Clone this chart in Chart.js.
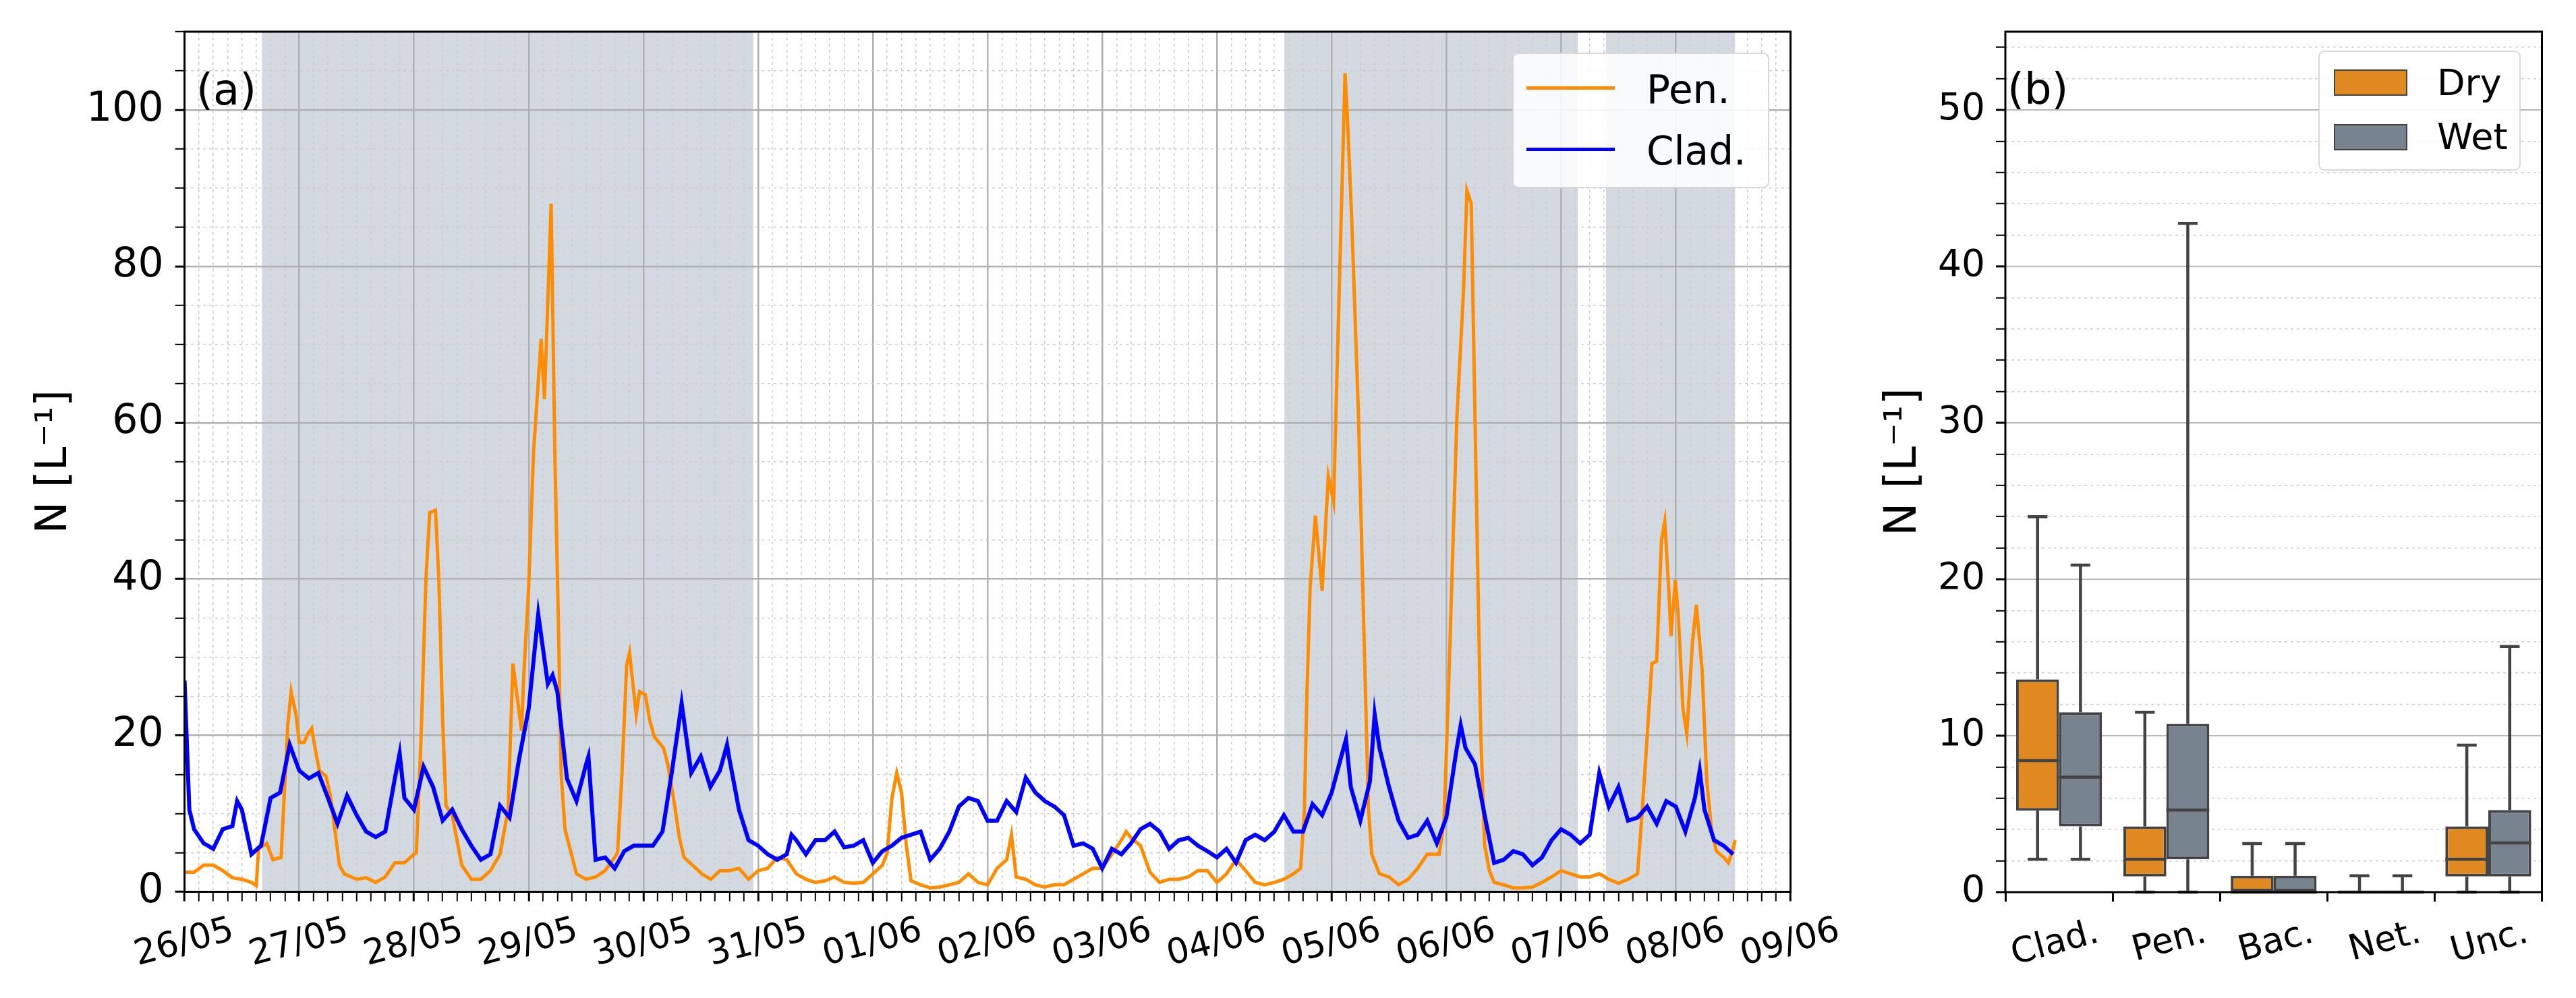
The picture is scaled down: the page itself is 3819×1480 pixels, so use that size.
<!DOCTYPE html>
<html>
<head>
<meta charset="utf-8">
<script src="https://cdn.jsdelivr.net/npm/chart.js@4.4.0/dist/chart.umd.min.js"></script>
<style>
  html, body { margin: 0; padding: 0; background: #fff; }
  #wrap { position: relative; width: 3819px; height: 1480px; overflow: hidden; font-family: 'DejaVu Sans', sans-serif; color: #000; }
  canvas { position: absolute; top: 0; }
  #chartA { left: 0; }
  #chartB { left: 2700px; }
  .tag { position: absolute; font-size: 64px; line-height: 1; white-space: nowrap; }
  .legend { position: absolute; box-sizing: border-box; background: rgba(255,255,255,0.85); border: 2px solid #d8d8d8; border-radius: 9px; }
  .legend .txt { position: absolute; line-height: 1; white-space: nowrap; }
  .legend .sw { position: absolute; box-sizing: border-box; }
</style>
</head>
<body>
<div id="wrap">
  <canvas id="chartA" width="2800" height="1480"></canvas>
  <canvas id="chartB" width="1119" height="1480"></canvas>
  <div class="tag" style="left:291px; top:101px;">(a)</div>
  <div class="tag" style="left:2976px; top:100px;">(b)</div>
  <div class="legend" id="legA" style="left:2242px; top:78px; width:381px; height:201px;"></div>
  <div class="legend" id="legB" style="left:3437px; top:75px; width:300px; height:178px;"></div>
</div>
<script>
// ---- panel (a): time series, hours since 26/05 00:00 ----
const dayLabels = ['26/05','27/05','28/05','29/05','30/05','31/05','01/06','02/06','03/06','04/06','05/06','06/06','07/06','08/06','09/06'];

const penHours = [
  0,2,4,6,8,10,12,14,15,15.5,
  17.2,18.5,20.2,21.6,22.3,23.3,24,25,25.8,26.6,
  27.3,28.2,29.6,30.6,31.5,32.4,33.4,36,38,40,
  42,44,46,48,48.5,49.5,50.5,51.3,52.5,53.2,
  54,54.7,56,58,60,62,64,66,67.7,68.7,
  70.5,71,72,73,74.6,75.3,76.7,77.5,78.2,78.8,
  79.6,82,84,86,88,90,90.6,91.5,92.5,93.1,
  94.5,95.2,96.4,97.3,98.3,100.2,101.1,102.5,103.5,104.5,
  106.3,108.2,110.1,112,114,116,118,120,122,124,
  126,128,130,132,134,136,138,140,142,144,
  146,147,148,149,150,151,152,154,156,158,
  160,162,164,166,168,170,172,173,174,176,
  178,180,182,184,186,188,190,192,194,196,
  197,198,200,202,204,206,208,210,212,214,
  216,218,220,222,224,226,228,230,232,233.5,
  234.3,234.8,235.5,236.6,238,239.3,240.4,242.8,243.3,244.2,
  245.6,246.8,247.7,248.4,250,252,254,256,258,260,
  262.5,263.5,264.4,266.2,267.6,268.3,269.2,270.3,271.2,272,
  273,274,276,278,280,282,284,286,288,290,
  292,294,296,298,300,302,304,305,306,307,
  308,309,309.7,310.5,311,311.9,312.5,313.5,314.3,315.5,
  316.3,317.5,318.5,319.5,320.5,322,323,324,324.4
];
const penValues = [
  2.5,2.5,3.4,3.4,2.7,1.8,1.6,1.2,0.8,5.5,
  6.2,4.1,4.4,21.3,25.6,22.7,19.1,19.1,20.2,20.9,
  18.4,15.5,14.8,12,7.7,3.4,2.3,1.6,1.8,1.2,
  1.9,3.7,3.7,4.8,5,20,40,48.5,48.8,40,
  22,11,9.8,3.4,1.6,1.6,2.7,4.8,10.5,29.2,
  20.6,28,39,56,70.7,63,88,55,35,15,
  8,2.3,1.6,1.9,2.7,4.4,5,15,29,30.6,
  22.7,25.6,25.2,22,19.8,18.4,16.3,11.2,7,4.4,
  3.4,2.3,1.6,2.7,2.7,3.0,1.6,2.7,3.0,4.4,
  4.1,2.3,1.6,1.2,1.4,1.9,1.2,1.1,1.2,2.3,
  3.4,5,12,15.2,12.7,6,1.4,0.9,0.5,0.6,
  0.9,1.2,2.3,1.2,0.9,3.0,4.1,7.3,1.9,1.6,
  0.9,0.6,0.9,0.9,1.6,2.3,3.0,3.0,4.8,6.6,
  7.7,6.9,5.9,2.5,1.2,1.6,1.6,1.9,2.7,2.7,
  1.2,2.3,4.1,2.7,1.2,0.9,1.2,1.6,2.3,3,
  10.5,24.9,39,48.1,38.5,53.2,49.9,104.7,99,86,
  61,32,10.5,4.8,2.3,1.9,0.9,1.6,3.0,4.8,
  4.8,9,24.9,60.7,77,89.7,88,50,20,6,
  2.7,1.2,0.9,0.5,0.5,0.6,1.2,1.9,2.7,2.3,
  1.9,1.9,2.3,1.6,1.1,1.6,2.3,10.5,19.8,29.2,
  29.5,45,47.4,39,32.7,39.9,35.6,23.4,20.2,32,
  36.7,28.4,14.1,7.7,5.2,4.4,3.7,5.5,6.6
];

const cladHours = [
  0,1,2,4,6,8,10,11,12,14,
  16,18,20,22,24,26,28,30,32,34,
  36,38,40,42,44,45,46,48,50,52,
  54,56,58,60,62,64,66,68,70,72,
  74,76,77,78,80,82,84,84.5,86,88,
  90,92,94,96,98,100,102,104,106,108,
  110,112,113.5,114,116,118,120,122,124,126,
  127,128,130,132,134,136,138,140,142,144,
  146,148,150,152,154,156,158,160,162,164,
  166,168,170,172,174,176,178,180,182,184,
  186,188,190,192,194,196,198,200,202,204,
  206,208,210,212,214,216,218,220,222,224,
  226,228,230,232,234,236,238,240,242,243,
  244,246,248,249,250,252,254,256,258,260,
  262,264,266,267,268,270,272,274,276,278,
  280,282,284,286,288,290,292,294,296,298,
  300,302,304,306,308,310,312,314,316,317,
  318,320,322,324
];
const cladValues = [
  27,10.5,8,6.2,5.5,8.0,8.4,11.6,10.5,4.8,
  5.9,12,12.7,18.8,15.5,14.5,15.2,12,8.7,12.3,
  9.8,7.7,7.0,7.7,14.5,17.7,12,10.5,16,13.4,
  9.1,10.5,8.0,5.9,4.1,4.8,11,9.5,17,23.4,
  35.5,26.6,27.7,25.6,14.5,11.6,16.3,17.3,4.1,4.4,
  3.0,5.2,5.9,5.9,5.9,7.7,15.5,24.1,15.2,17.3,
  13.4,15.5,18.8,17.0,10.5,6.6,5.9,4.8,4.1,4.8,
  7.3,6.6,4.8,6.6,6.6,7.7,5.7,5.9,6.6,3.7,
  5.2,5.9,6.9,7.3,7.7,4.1,5.5,7.7,10.9,12,
  11.6,9.1,9.1,11.6,10.2,14.6,12.7,11.6,10.9,9.8,
  5.9,6.2,5.5,3.0,5.5,4.8,6.2,8.0,8.7,7.7,
  5.5,6.6,6.9,5.9,5.2,4.4,5.5,3.7,6.6,7.3,
  6.6,7.7,9.8,7.7,7.7,11.2,9.8,12.7,17.3,19.5,
  13.4,9.1,14.1,22.7,18.4,13.4,9.1,6.9,7.3,9.1,
  6.2,9.5,17.7,21.3,18.4,16.3,9.8,3.7,4.1,5.2,
  4.8,3.4,4.4,6.6,8.0,7.3,6.2,7.3,15.2,10.9,
  13.4,9.1,9.5,10.9,8.7,11.6,10.9,7.7,12,15.5,
  10.5,6.6,5.9,4.8
];

// wet periods (grey bands), hours
const wetStart = [16.2, 230.1, 297.4];
const wetEnd = [119.0, 291.5, 324.4];

// ---- panel (b): box statistics ----
const boxCats = ['Clad.', 'Pen.', 'Bac.', 'Net.', 'Unc.'];
const dryMin = [2.1, 0, 0, 0, 0];
const dryQ1 = [5.2, 1.0, 0, 0, 1.0];
const dryMed = [8.4, 2.1, 0, 0, 2.1];
const dryQ3 = [13.6, 4.2, 1.05, 0, 4.2];
const dryMax = [24.0, 11.5, 3.1, 1.05, 9.4];
const wetMin = [2.1, 0, 0, 0, 0];
const wetQ1 = [4.2, 2.1, 0, 0, 1.0];
const wetMed = [7.35, 5.25, 0, 0, 3.15];
const wetQ3 = [11.5, 10.75, 1.05, 0, 5.25];
const wetMax = [20.9, 42.75, 3.1, 1.05, 15.7];

const FONT = "'DejaVu Sans', sans-serif";
const PEN = '#ff8c00', CLAD = '#0000ff';
const DRY = '#df8920', WET = '#77838f', EDGE = '#434343';
const SHADE = '#d3d9e0';

Chart.defaults.font.family = FONT;
Chart.defaults.color = '#000';

const xTicksA = [];
for (let h = 0; h <= 336; h += 3) xTicksA.push(h);
const yTicksA = [];
for (let v = 0; v <= 110; v += 5) yTicksA.push(v);
const yTicksB = [];
for (let v = 0; v <= 54; v += 2) yTicksB.push(v);

const frame = {
  id: 'frame',
  afterDatasetsDraw(chart) {
    const { ctx, chartArea: a } = chart;
    ctx.save();
    ctx.strokeStyle = '#000';
    ctx.lineWidth = 3;
    ctx.strokeRect(a.left, a.top, a.right - a.left, a.bottom - a.top);
    ctx.restore();
  }
};

const wetShade = {
  id: 'wetShade',
  beforeDraw(chart) {
    const { ctx, chartArea: a, scales: { x } } = chart;
    ctx.save();
    ctx.fillStyle = SHADE;
    wetStart.forEach((s, i) => {
      const x0 = x.getPixelForValue(s);
      const x1 = x.getPixelForValue(wetEnd[i]);
      ctx.fillRect(x0, a.top, x1 - x0, a.bottom - a.top);
    });
    ctx.restore();
  }
};

const whiskers = {
  id: 'whiskers',
  afterDatasetsDraw(chart) {
    const { ctx, scales: { y } } = chart;
    ctx.save();
    ctx.strokeStyle = EDGE;
    ctx.lineWidth = 4.5;
    chart.data.datasets.forEach((ds, di) => {
      const st = ds.stats;
      chart.getDatasetMeta(di).data.forEach((bar, i) => {
        const x = bar.x, half = bar.width / 2, cap = bar.width * 0.23;
        const pMin = y.getPixelForValue(st.min[i]);
        const pMax = y.getPixelForValue(st.max[i]);
        const pQ1 = y.getPixelForValue(st.q1[i]);
        const pQ3 = y.getPixelForValue(st.q3[i]);
        const pMed = y.getPixelForValue(st.med[i]);
        ctx.beginPath();
        ctx.moveTo(x, pQ3); ctx.lineTo(x, pMax);
        ctx.moveTo(x, pQ1); ctx.lineTo(x, pMin);
        ctx.moveTo(x - cap, pMax); ctx.lineTo(x + cap, pMax);
        ctx.moveTo(x - cap, pMin); ctx.lineTo(x + cap, pMin);
        ctx.moveTo(x - half, pMed); ctx.lineTo(x + half, pMed);
        ctx.stroke();
      });
    });
    ctx.restore();
  }
};

const isMajor = (c, step) => c.tick && c.tick.value % step === 0;

// keep the plot area where the layout padding puts it
const fixWidth = w => s => { s.width = w; s.paddingTop = 0; s.paddingBottom = 0; };

const chartA = new Chart(document.getElementById('chartA'), {
  type: 'line',
  data: {
    datasets: [
      {
        label: 'Pen.',
        data: penHours.map((h, i) => ({ x: h, y: penValues[i] })),
        borderColor: PEN,
        borderWidth: 5,
        pointRadius: 0,
        tension: 0,
        order: 1
      },
      {
        label: 'Clad.',
        data: cladHours.map((h, i) => ({ x: h, y: cladValues[i] })),
        borderColor: CLAD,
        borderWidth: 6,
        pointRadius: 0,
        tension: 0,
        order: 0
      }
    ]
  },
  options: {
    responsive: false,
    animation: false,
    devicePixelRatio: 1,
    layout: { padding: { left: 0, right: 145.5, top: 47, bottom: 0 } },
    plugins: { legend: { display: false }, tooltip: { enabled: false } },
    scales: {
      x: {
        type: 'linear',
        min: 0,
        max: 336,
        afterBuildTicks: s => { s.ticks = xTicksA.map(v => ({ value: v })); },
        afterFit: s => { s.height = 157.5; },
        ticks: {
          autoSkip: false,
          minRotation: 15,
          maxRotation: 15,
          labelOffset: 72,
          padding: 13,
          font: { size: 52 },
          callback: v => (v % 24 === 0 ? dayLabels[v / 24] : '')
        },
        grid: {
          color: c => (isMajor(c, 24) ? '#b0b0b0' : '#cdcdcd'),
          lineWidth: c => (isMajor(c, 24) ? 2.5 : 1.6),
          tickLength: 14,
          tickColor: '#000',
          tickWidth: c => (isMajor(c, 24) ? 3 : 2)
        },
        border: { display: false, dash: c => (c.tick && c.tick.value % 24 !== 0 ? [4, 5] : []) }
      },
      y: {
        min: 0,
        max: 110,
        afterBuildTicks: s => { s.ticks = yTicksA.map(v => ({ value: v })); },
        afterFit: fixWidth(273.6),
        ticks: {
          autoSkip: false,
          padding: 17,
          font: { size: 60 },
          callback: v => (v % 20 === 0 ? v : '')
        },
        grid: {
          color: c => (isMajor(c, 20) ? '#b0b0b0' : '#cdcdcd'),
          lineWidth: c => (isMajor(c, 20) ? 2.5 : 1.6),
          tickLength: 14,
          tickColor: '#000',
          tickWidth: c => (isMajor(c, 20) ? 3 : 2)
        },
        border: { display: false, dash: c => (c.tick && c.tick.value % 20 !== 0 ? [4, 5] : []) },
        title: {
          display: true,
          text: 'N [L⁻¹]',
          font: { size: 64 },
          padding: { top: 43, bottom: 0 }
        }
      }
    }
  },
  plugins: [wetShade, frame]
});

const chartB = new Chart(document.getElementById('chartB'), {
  type: 'bar',
  data: {
    labels: boxCats,
    datasets: [
      {
        label: 'Dry',
        data: boxCats.map((c, i) => [dryQ1[i], dryQ3[i]]),
        backgroundColor: DRY,
        borderColor: EDGE,
        borderWidth: 4,
        borderSkipped: false,
        categoryPercentage: 0.8,
        barPercentage: 1.0,
        stats: { min: dryMin, q1: dryQ1, med: dryMed, q3: dryQ3, max: dryMax }
      },
      {
        label: 'Wet',
        data: boxCats.map((c, i) => [wetQ1[i], wetQ3[i]]),
        backgroundColor: WET,
        borderColor: EDGE,
        borderWidth: 4,
        borderSkipped: false,
        categoryPercentage: 0.8,
        barPercentage: 1.0,
        stats: { min: wetMin, q1: wetQ1, med: wetMed, q3: wetQ3, max: wetMax }
      }
    ]
  },
  options: {
    responsive: false,
    animation: false,
    devicePixelRatio: 1,
    layout: { padding: { left: 0, right: 50.5, top: 47, bottom: 0 } },
    plugins: { legend: { display: false }, tooltip: { enabled: false } },
    scales: {
      x: {
        afterFit: s => { s.height = 157; },
        ticks: {
          autoSkip: false,
          minRotation: 15,
          maxRotation: 15,
          labelOffset: 58,
          padding: 16,
          font: { size: 52 }
        },
        grid: { drawOnChartArea: false, tickLength: 14, tickColor: '#000', tickWidth: 3 },
        border: { display: false }
      },
      y: {
        min: 0,
        max: 55,
        afterBuildTicks: s => { s.ticks = yTicksB.map(v => ({ value: v })); },
        afterFit: fixWidth(273),
        ticks: {
          autoSkip: false,
          padding: 16,
          font: { size: 55 },
          callback: v => (v % 10 === 0 ? v : '')
        },
        grid: {
          color: c => (isMajor(c, 10) ? '#b8b8b8' : '#cdcdcd'),
          lineWidth: c => (isMajor(c, 10) ? 2 : 1.6),
          tickLength: 14,
          tickColor: '#000',
          tickWidth: c => (isMajor(c, 10) ? 3 : 2)
        },
        border: { display: false, dash: c => (c.tick && c.tick.value % 10 !== 0 ? [4, 5] : []) },
        title: {
          display: true,
          text: 'N [L⁻¹]',
          font: { size: 66 },
          padding: { top: 83, bottom: 0 }
        }
      }
    }
  },
  plugins: [whiskers, frame]
});

// legends built from the chart data
function addEl(parent, cls, css, text) {
  const d = document.createElement('div');
  d.className = cls;
  Object.assign(d.style, css);
  if (text) d.textContent = text;
  parent.appendChild(d);
  return d;
}
const legA = document.getElementById('legA');
chartA.data.datasets.forEach((ds, i) => {
  const lineY = [50, 141][i];
  addEl(legA, 'sw', { left: '19px', top: (lineY - 2.5) + 'px', width: '131px', height: '5px', background: ds.borderColor });
  addEl(legA, 'txt', { left: '197px', top: [24, 115][i] + 'px', fontSize: '58px' }, ds.label);
});
const legB = document.getElementById('legB');
chartB.data.datasets.forEach((ds, i) => {
  const top = [26, 107][i];
  addEl(legB, 'sw', { left: '21px', top: top + 'px', width: '109px', height: '39px', background: ds.backgroundColor, border: '2.5px solid ' + EDGE });
  addEl(legB, 'txt', { left: '174px', top: [19, 99][i] + 'px', fontSize: '54px' }, ds.label);
});
</script>
</body>
</html>
